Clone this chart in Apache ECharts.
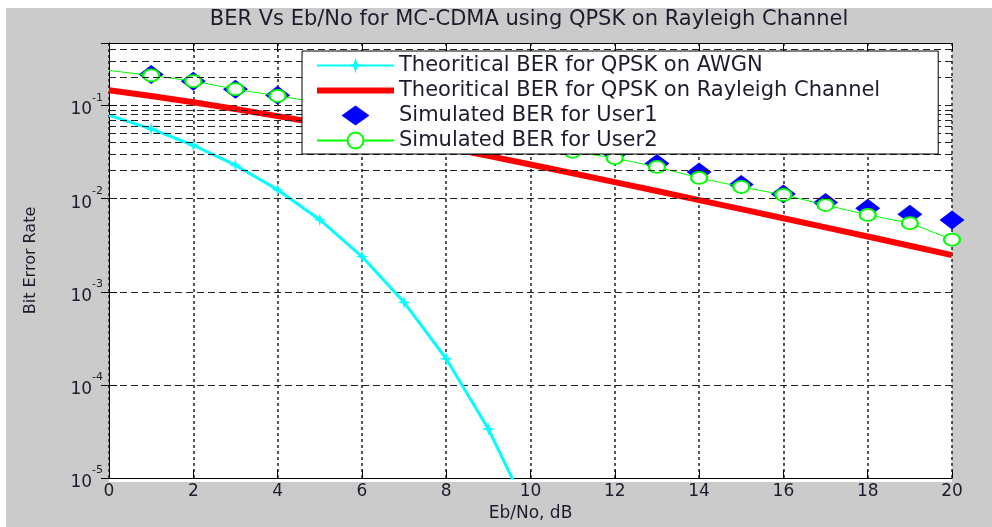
<!DOCTYPE html>
<html><head><meta charset="utf-8">
<script src="https://cdn.jsdelivr.net/npm/echarts@6/dist/echarts.min.js"></script>
<style>html,body{margin:0;padding:0;background:#fff}#c{width:992px;height:527px}</style>
</head><body><div id="c"></div>
<script>
// ---- data ----
const ebNo = [0,1,2,3,4,5,6,7,8,9,10,11,12,13,14,15,16,17,18,19,20];
const berAwgn = [0.0786,0.0563,0.0375,0.0229,0.0125,0.00595,0.00239,0.00077,0.000191,0.0000336,0.00000387];
const berRayleigh = [0.1464,0.1267,0.1085,0.0919,0.0771,0.0642,0.0530,0.0435,0.0355,0.0288,0.0233,0.01875,0.01506,0.01208,0.00966,0.00772,0.00617,0.00492,0.00392,0.00312,0.00248];
const ebNoUser1 = [1,2,3,4,5,6,7,8,9,10,11,12,13,14,15,16,17,18,19,20];
const berUser1 = [0.216,0.183,0.150,0.129,0.108,0.089,0.073,0.060,0.049,0.041,0.034,0.0304,0.0238,0.0194,0.0142,0.0112,0.0091,0.0079,0.0068,0.0059];
const berUser2 = [0.238,0.211,0.183,0.150,0.127,0.108,0.089,0.073,0.060,0.049,0.040,0.032,0.0273,0.0219,0.0167,0.0134,0.0110,0.00855,0.00669,0.00546,0.00364];
const xTickValues = [0,2,4,6,8,10,12,14,16,18,20];
const yMin = 1e-5, yMax = 0.47;
const seriesNames = ['Theoritical BER for QPSK on AWGN','Theoritical BER for QPSK on Rayleigh Channel','Simulated BER for User1','Simulated BER for User2'];
const titleText = 'BER Vs Eb/No for MC-CDMA using QPSK on Rayleigh Channel';
const xName = 'Eb/No, dB';
const yName = 'Bit Error Rate';

// ---- build ----
const pairs = (xs, ys) => ys.map((v, i) => [xs[i], v]);
const noFirstSymbol = arr => arr.map((p, i) => i === 0 ? {value: p, symbol: 'none'} : p);
const minorGrid = [];
for (let e = -5; e <= -1; e++) for (let m = 2; m <= 9; m++) { const v = m * Math.pow(10, e); if (v < yMax) minorGrid.push(v); }

const FONT = 'DejaVu Sans';
const TXT = '#1c1c2c';

const chart = echarts.init(document.getElementById('c'));
chart.setOption({
  animation: false,
  backgroundColor: '#ffffff',
  graphic: [{type: 'rect', shape: {x: 6, y: 8, width: 986, height: 519}, style: {fill: '#cbcbcb'}, z: -10, silent: true},
            {type: 'rect', shape: {x: 109, y: 43, width: 843, height: 439}, style: {fill: '#ffffff'}, z: -9, silent: true}],
  title: {text: titleText, left: 529, top: 9, textAlign: 'center', padding: 0,
    textStyle: {fontFamily: FONT, fontSize: 21, fontWeight: 'normal', color: TXT}},
  grid: {left: 109, top: 43, right: 40, bottom: 45, containLabel: false},
  legend: {
    orient: 'vertical', left: 302, top: 51, padding: [4, 58, 3, 14], itemGap: 4,
    itemWidth: 77, itemHeight: 20, backgroundColor: '#ffffff', borderColor: '#000', borderWidth: 1,
    z: 10,
    textStyle: {fontFamily: FONT, fontSize: 21, color: TXT, lineHeight: 20},
    data: [
      {name: seriesNames[0]},
      {name: seriesNames[1], icon: 'path://M0,0H77V6H0Z'},
      {name: seriesNames[2], icon: 'path://M14,0L28,10L14,20L0,10Z'},
      {name: seriesNames[3]}
    ]
  },
  xAxis: [{
    type: 'value', min: 0, max: 20, interval: 2, position: 'bottom',
    name: xName, nameLocation: 'middle', nameGap: 27,
    nameTextStyle: {fontFamily: FONT, fontSize: 17, color: TXT},
    axisLine: {lineStyle: {color: '#000', width: 1}},
    axisTick: {inside: true, length: 8, lineStyle: {color: '#000'}},
    axisLabel: {fontFamily: FONT, fontSize: 17, color: TXT, margin: 5},
    splitLine: {show: true, lineStyle: {color: '#222', type: [3, 3], width: 1.5}}
  }, {
    type: 'value', min: 0, max: 20, interval: 2, position: 'top',
    axisLine: {lineStyle: {color: '#000', width: 1}},
    axisTick: {inside: true, length: 8, lineStyle: {color: '#000'}},
    axisLabel: {show: false}, splitLine: {show: false}
  }],
  yAxis: [{
    type: 'log', logBase: 10, min: yMin, max: yMax, position: 'left',
    name: yName, nameLocation: 'middle', nameGap: 70, nameRotate: 90,
    nameTextStyle: {fontFamily: FONT, fontSize: 16, color: TXT},
    axisLine: {show: true, lineStyle: {color: '#000', width: 1}},
    axisTick: {show: true, inside: true, length: 8, lineStyle: {color: '#000'}},
    axisLabel: {
      margin: 6, showMaxLabel: false,
      formatter: v => { const e = Math.round(Math.log10(v)); if (Math.abs(Math.log10(v) - e) > 1e-6 || v > yMax * 0.99) return ''; return '{b|10}{s|' + e + '}'; },
      rich: {b: {fontFamily: FONT, fontSize: 17, color: TXT, lineHeight: 26, verticalAlign: 'bottom'},
             s: {fontFamily: FONT, fontSize: 11, color: TXT, lineHeight: 10, verticalAlign: 'top'}}
    },
    splitLine: {show: true, lineStyle: {color: '#222', type: [7, 4], width: 1}}
  }, {
    type: 'log', logBase: 10, min: yMin, max: yMax, position: 'right',
    axisLine: {show: true, lineStyle: {color: '#000', width: 1}},
    axisTick: {show: true, inside: true, length: 8, lineStyle: {color: '#000'}},
    axisLabel: {show: false}, splitLine: {show: false}
  }],
  series: [
    {type: 'line', name: '_minorgrid', data: [], z: 1, silent: true,
     markLine: {silent: true, symbol: ['none', 'none'], label: {show: false}, animation: false,
       lineStyle: {color: '#222', type: [7, 4], width: 1},
       emphasis: {disabled: true},
       data: minorGrid.map(v => ({yAxis: v}))}},
    {type: 'line', name: seriesNames[0], data: noFirstSymbol(pairs(ebNo, berAwgn)), clip: true,
     symbol: 'path://M0,-6L1.3,-1.3L6,0L1.3,1.3L0,6L-1.3,1.3L-6,0L-1.3,-1.3Z', symbolSize: 13,
     lineStyle: {color: '#00ffff', width: 3}, itemStyle: {color: '#00ffff'}, z: 2},
    {type: 'line', name: seriesNames[1], data: pairs(ebNo, berRayleigh), symbol: 'none',
     lineStyle: {color: '#ff0000', width: 6}, itemStyle: {color: '#ff0000'}, z: 2},
    {type: 'scatter', name: seriesNames[2], data: pairs(ebNoUser1, berUser1), clip: false,
     symbol: 'diamond', symbolSize: [25, 19], itemStyle: {color: '#0000ff', opacity: 1}, z: 2},
    {type: 'line', name: seriesNames[3], data: noFirstSymbol(pairs(ebNo, berUser2)), clip: false,
     symbol: 'emptyCircle', symbolSize: [16, 12], showAllSymbol: true,
     lineStyle: {color: '#00ff00', width: 1}, itemStyle: {color: '#00ff00', borderWidth: 1.5}, z: 3}
  ]
});
</script></body></html>
